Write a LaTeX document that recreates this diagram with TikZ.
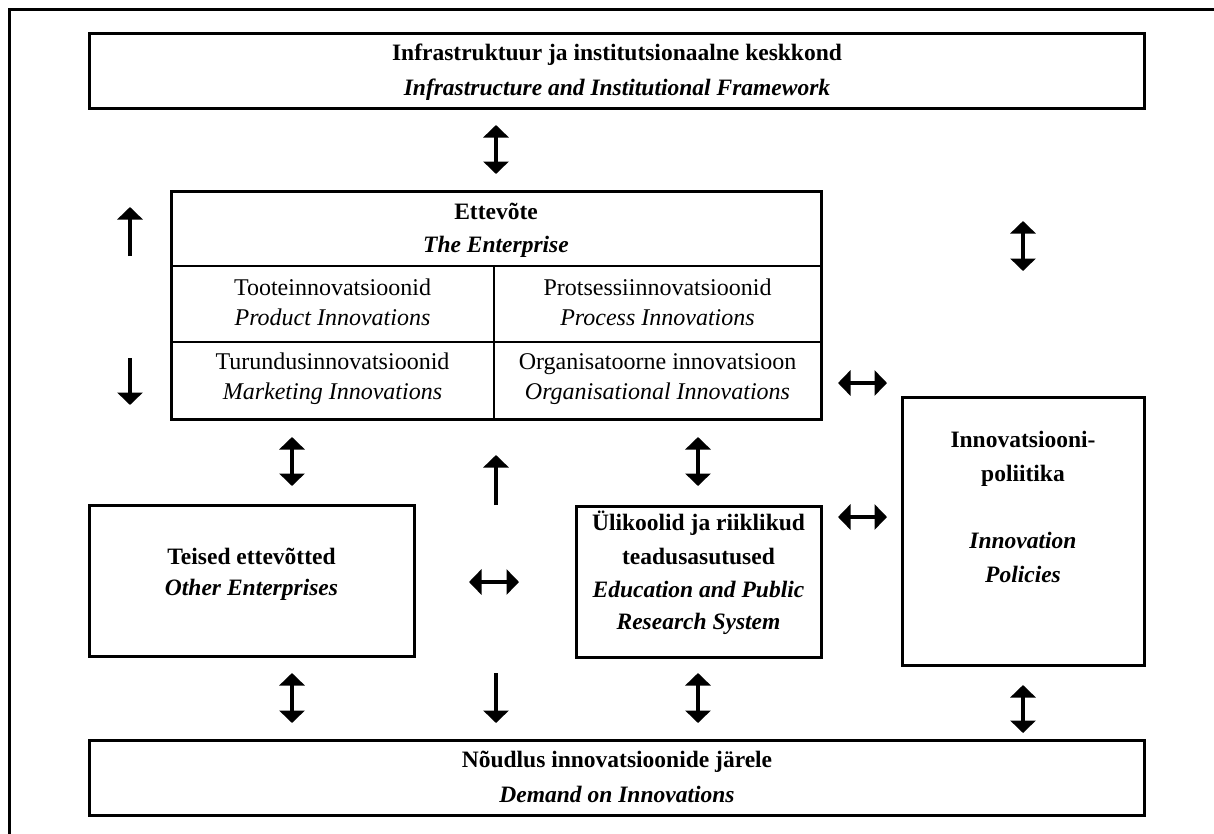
\documentclass[tikz,border=0pt]{standalone}
\usepackage{fontspec}
\setmainfont{Liberation Serif}
\usetikzlibrary{arrows.meta}
\begin{document}
\begin{tikzpicture}[x=1pt,y=-1pt,
  box/.style={draw, line width=3pt, inner sep=0pt},
  divider/.style={line width=2pt},
  frameline/.style={line width=3pt},
  tip/.tip={Triangle[width=25pt,length=12.5pt]},
  onearr/.style={line width=4.5pt, -tip},
  twoarr/.style={line width=4.5pt, tip-tip},
  txt/.style={inner sep=0pt, anchor=base, font=\fontsize{24}{28}\selectfont},
  btxt/.style={txt, font=\fontsize{23.5}{28}\selectfont\bfseries},
  bitxt/.style={txt, font=\fontsize{23.5}{28}\selectfont\bfseries\itshape},
  itxt/.style={txt, font=\fontsize{24}{28}\selectfont\itshape}]
\useasboundingbox (0,0) rectangle (1214,833);
\clip (0,0) rectangle (1214,833);
% outer frame (cut at right and bottom)
\draw[frameline] (9,845) -- (9,9.5) -- (1225,9.5);
% boxes
\node[box, minimum width=1054.5pt, minimum height=75pt] (infra) at (616.75,70.5) {};
\node[box, minimum width=650pt, minimum height=228pt] (ent) at (496,305) {};
\node[box, minimum width=325pt, minimum height=151pt] (other) at (251.5,580.5) {};
\node[box, minimum width=245pt, minimum height=151pt] (univ) at (698.5,581.5) {};
\node[box, minimum width=242pt, minimum height=268pt] (policy) at (1023,531) {};
\node[box, minimum width=1054.5pt, minimum height=75pt] (demand) at (616.75,777.5) {};
% enterprise table dividers
\draw[divider] (171,266) -- (821,266);
\draw[divider] (171,342) -- (821,342);
\draw[divider] (494,266) -- (494,419);
% texts
\node[btxt] (infraA) at (617,60) {Infrastruktuur ja institutsionaalne keskkond};
\node[bitxt] (infraB) at (617,95) {Infrastructure and Institutional Framework};
\node[btxt] (entA) at (496,219) {Ettevõte};
\node[bitxt] (entB) at (496,252) {The Enterprise};
\node[txt] (c1a) at (332.5,295) {Tooteinnovatsioonid};
\node[itxt] (c1b) at (332.5,325) {Product Innovations};
\node[txt] (c2a) at (657.5,295) {Protsessiinnovatsioonid};
\node[itxt] (c2b) at (657.5,325) {Process Innovations};
\node[txt] (c3a) at (332.5,369) {Turundusinnovatsioonid};
\node[itxt] (c3b) at (332.5,399) {Marketing Innovations};
\node[txt] (c4a) at (657.5,369) {Organisatoorne innovatsioon};
\node[itxt] (c4b) at (657.5,399) {Organisational Innovations};
\node[btxt] (otherA) at (251.5,564) {Teised ettevõtted};
\node[bitxt] (otherB) at (251.5,595) {Other Enterprises};
\node[btxt] (univA) at (698.5,530) {Ülikoolid ja riiklikud};
\node[btxt] (univB) at (698.5,564) {teadusasutused};
\node[bitxt] (univC) at (698.5,597) {Education and Public};
\node[bitxt] (univD) at (698.5,629) {Research System};
\node[btxt] (polA) at (1023,447) {Innovatsiooni-};
\node[btxt] (polB) at (1023,481) {poliitika};
\node[bitxt] (polC) at (1023,548) {Innovation};
\node[bitxt] (polD) at (1023,582) {Policies};
\node[btxt] (demA) at (617,767) {Nõudlus innovatsioonide järele};
\node[bitxt] (demB) at (617,802) {Demand on Innovations};
% arrow end points
\coordinate (a1s) at (496,125); \coordinate (a1e) at (496,174);
\coordinate (a2s) at (130,256); \coordinate (a2e) at (130,207);
\coordinate (a3s) at (130,358); \coordinate (a3e) at (130,405);
\coordinate (a4s) at (1023,221); \coordinate (a4e) at (1023,271);
\coordinate (a5s) at (292,437); \coordinate (a5e) at (292,486);
\coordinate (a6s) at (496,505); \coordinate (a6e) at (496,455);
\coordinate (a7s) at (698,437); \coordinate (a7e) at (698,486);
\coordinate (a8s) at (469,582); \coordinate (a8e) at (519,582);
\coordinate (a9s) at (838,383); \coordinate (a9e) at (887,383);
\coordinate (a10s) at (838,517); \coordinate (a10e) at (887,517);
\coordinate (a11s) at (292,673); \coordinate (a11e) at (292,723);
\coordinate (a12s) at (496,673); \coordinate (a12e) at (496,723);
\coordinate (a13s) at (698,673); \coordinate (a13e) at (698,723);
\coordinate (a14s) at (1023,685); \coordinate (a14e) at (1023,733);
% arrows
\draw[twoarr] (a1s) -- (a1e);
\draw[onearr] (a2s) -- (a2e);
\draw[onearr] (a3s) -- (a3e);
\draw[twoarr] (a4s) -- (a4e);
\draw[twoarr] (a5s) -- (a5e);
\draw[onearr] (a6s) -- (a6e);
\draw[twoarr] (a7s) -- (a7e);
\draw[twoarr] (a8s) -- (a8e);
\draw[twoarr] (a9s) -- (a9e);
\draw[twoarr] (a10s) -- (a10e);
\draw[twoarr] (a11s) -- (a11e);
\draw[onearr] (a12s) -- (a12e);
\draw[twoarr] (a13s) -- (a13e);
\draw[twoarr] (a14s) -- (a14e);
\end{tikzpicture}
\end{document}
